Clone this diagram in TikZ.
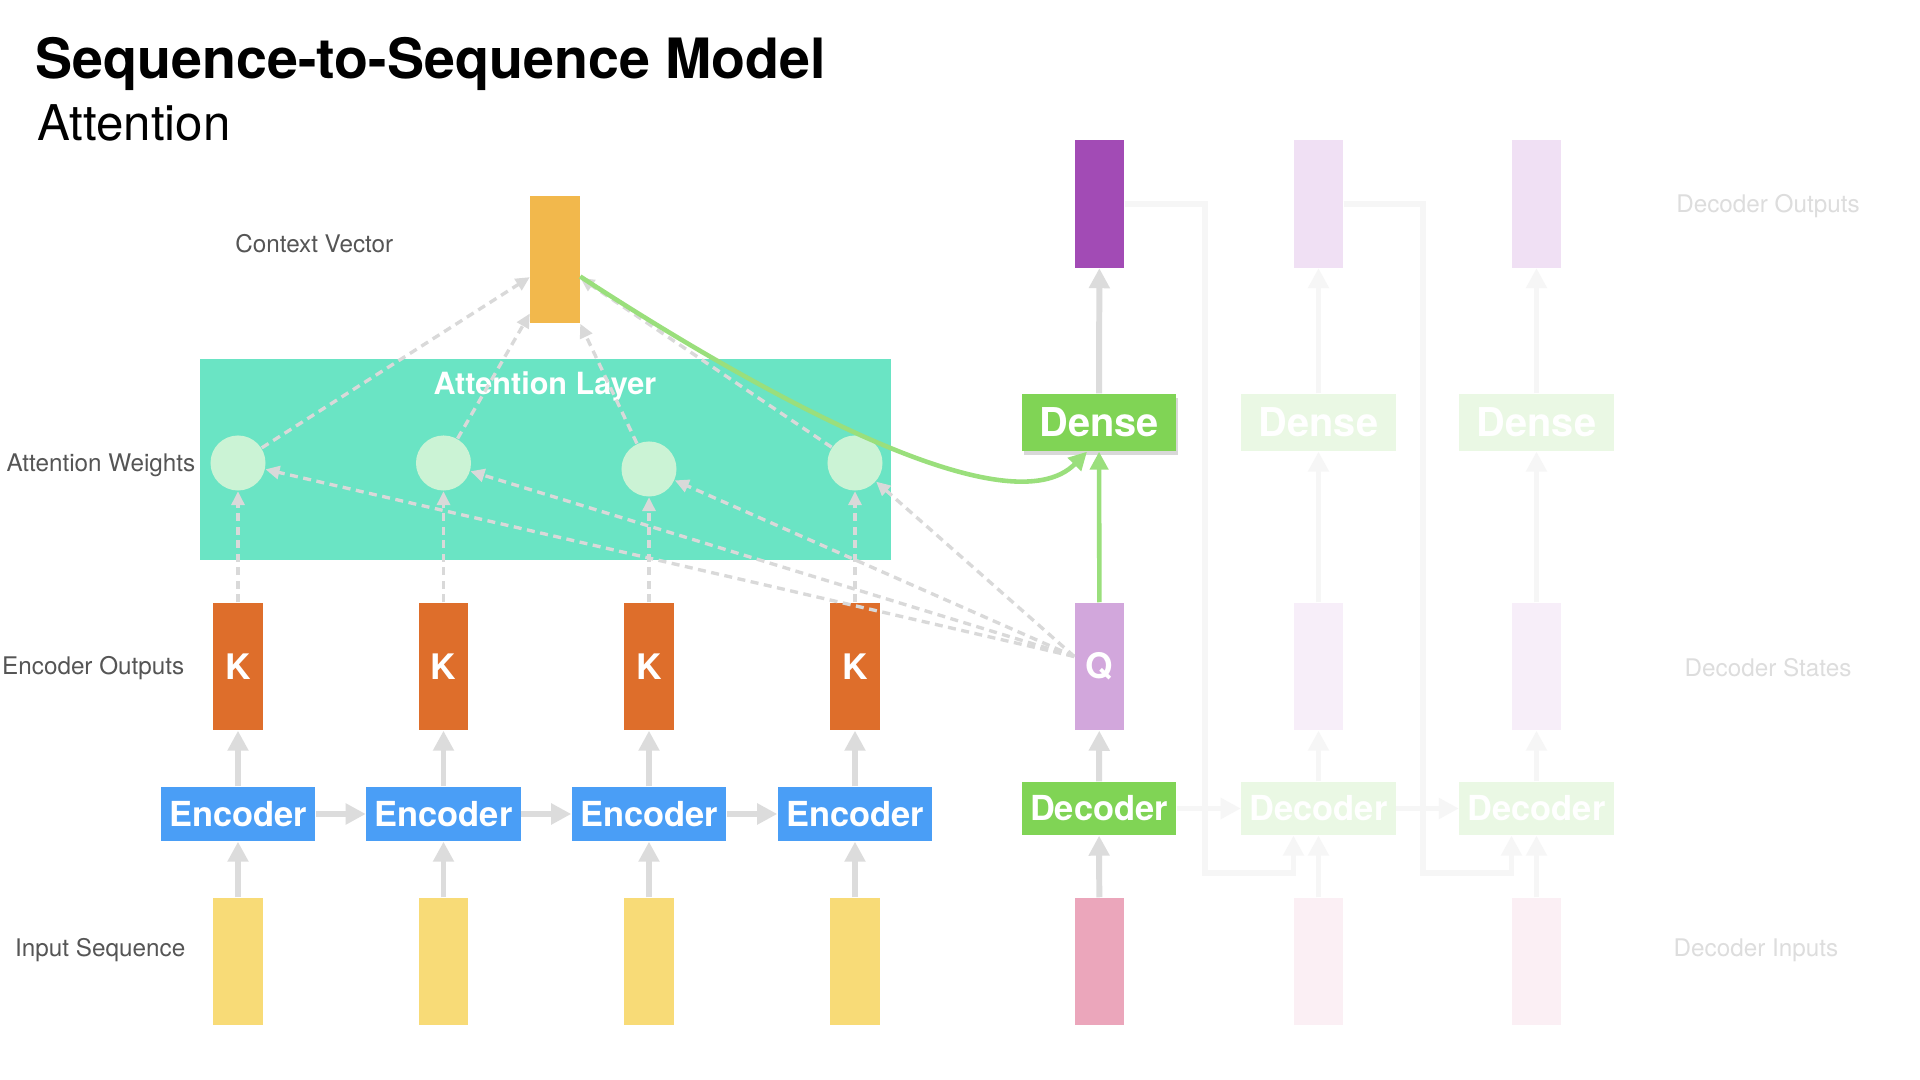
\documentclass[tikz,border=0pt]{standalone}
\usepackage{fontspec}
\setmainfont{TeX Gyre Heros}
\usetikzlibrary{arrows.meta,shadows}

\definecolor{layerteal}{HTML}{6AE4C4}
\definecolor{weightgreen}{HTML}{CBF3D5}
\definecolor{ctxorange}{HTML}{F2B84C}
\definecolor{keyorange}{HTML}{DE6E2B}
\definecolor{encblue}{HTML}{4A9EF6}
\definecolor{inyellow}{HTML}{F8DB77}
\definecolor{outpurple}{HTML}{A24BB5}
\definecolor{qpurple}{HTML}{D2A7DC}
\definecolor{decgreen}{HTML}{80D455}
\definecolor{inpink}{HTML}{EBA6BB}
\definecolor{fadegreen}{HTML}{EAF8E4}
\definecolor{fadeout}{HTML}{F0E0F4}
\definecolor{fadestate}{HTML}{F7EEF9}
\definecolor{fadepink}{HTML}{FBEFF4}
\definecolor{flowgray}{HTML}{DCDCDC}
\definecolor{fadegray}{HTML}{F6F6F6}
\definecolor{dashgray}{HTML}{D9D9D9}
\definecolor{linkgreen}{HTML}{9ADF7C}
\definecolor{labelgray}{HTML}{555555}
\definecolor{fadetext}{HTML}{DDDDDD}

\begin{document}
\begin{tikzpicture}[x=0.01cm, y=-0.01cm,
        vec/.style={minimum width=4.9mm, minimum height=12.7mm, inner sep=0pt,
            text=white, font=\fontsize{10}{12}\selectfont\bfseries},
        blk/.style={minimum width=15.4mm, minimum height=5.4mm, inner sep=0pt,
            text=white, font=\fontsize{9.8}{12}\selectfont\bfseries},
        lbl/.style={text=labelgray, inner sep=0pt, font=\fontsize{6.9}{8}\selectfont},
        flow/.style={draw=flowgray, line width=1.7pt, -{Triangle[length=2mm,width=2mm]}},
        fadeflow/.style={flow, draw=fadegray},
        attn/.style={draw=dashgray, line width=0.95pt, dash pattern=on 0.8mm off 0.55mm,
            -{Triangle[length=1.4mm,width=1.3mm]}},
        linkflow/.style={draw=linkgreen, line width=1.3pt, -{Triangle[length=1.8mm,width=1.8mm]}}]
    \fill[white] (0,0) rectangle (1920,1080);
    \useasboundingbox (0,0) rectangle (1920,1080);

    \node[anchor=base west, inner sep=0pt, font=\fontsize{15.8}{19}\selectfont\bfseries]
        (title) at (35,79) {Sequence-to-Sequence Model};
    \node[anchor=base west, inner sep=0pt, font=\fontsize{14}{17}\selectfont]
        (subtitle) at (37,141) {Attention};

    % attention layer
    \node[fill=layerteal, minimum width=69.1mm, minimum height=20.1mm, inner sep=0pt]
        (layer) at (545.5,459.5) {};
    \node[text=white, font=\fontsize{8.7}{10}\selectfont\bfseries] (layertext) at (545,386) {Attention Layer};
    \node[vec, fill=ctxorange] (ctx) at (555,259.5) {};

    % encoder side
    \foreach \i/\x/\y in {1/238/463, 2/443.5/463, 3/649/469, 4/855/463} {
        \node[vec, fill=inyellow] (in\i) at (\x,961.5) {};
        \node[blk, fill=encblue] (enc\i) at (\x,814) {Encoder};
        \node[vec, fill=keyorange] (k\i) at (\x,666.5) {K};
        \node[circle, fill=weightgreen, minimum size=5.5mm, inner sep=0pt] (w\i) at (\x,\y) {};
        \draw[flow] (in\i) -- (enc\i);
        \draw[flow] (enc\i) -- (k\i);
    }
    \foreach \i/\j in {1/2, 2/3, 3/4}
        \draw[flow] (enc\i) -- (enc\j);

    % decoder side
    \node[vec, fill=inpink] (din1) at (1099.5,961.5) {};
    \node[blk, fill=decgreen, minimum height=5.3mm] (dec1) at (1099,808.5) {Decoder};
    \node[vec, fill=qpurple] (q) at (1099.5,666.5) {Q};
    \node[blk, fill=decgreen, minimum height=5.7mm, font=\fontsize{11.3}{13}\selectfont\bfseries,
        drop shadow={shadow xshift=0.2mm, shadow yshift=-0.4mm, opacity=0.3}] (dns1) at (1099,422.5) {Dense};
    \node[vec, fill=outpurple] (out1) at (1099.5,204) {};
    \foreach \i/\x in {2/1318.5, 3/1536.5} {
        \node[vec, fill=fadepink] (din\i) at (\x,961.5) {};
        \node[blk, fill=fadegreen, minimum height=5.3mm] (dec\i) at (\x,808.5) {Decoder};
        \node[vec, fill=fadestate] (st\i) at (\x,666.5) {};
        \node[blk, fill=fadegreen, minimum height=5.7mm, font=\fontsize{11.3}{13}\selectfont\bfseries]
            (dns\i) at (\x,422.5) {Dense};
        \node[vec, fill=fadeout] (out\i) at (\x,204) {};
        \draw[fadeflow] (din\i) -- (dec\i);
        \draw[fadeflow] (dec\i) -- (st\i);
        \draw[fadeflow] (st\i) -- (dns\i);
        \draw[fadeflow] (dns\i) -- (out\i);
    }
    \draw[fadeflow] (dec1) -- (dec2);
    \draw[fadeflow] (dec2) -- (dec3);
    \draw[fadeflow] (out1.east) -| (1205,873) -| ([xshift=-2.5mm]dec2.south);
    \draw[fadeflow] (out2.east) -| (1423,873) -| ([xshift=-2.5mm]dec3.south);
    \draw[flow] (din1) -- (dec1);
    \draw[flow] (dec1) -- (q);
    \draw[flow] (dns1) -- (out1);

    % attention links
    \foreach \i in {1,...,4} {
        \draw[attn] (k\i) -- (w\i);
        \draw[attn] ([yshift=1mm]q.west) -- (w\i);
    }
    \draw[attn] (w1) -- (ctx.215);
    \draw[attn] (w2) -- (ctx.245);
    \draw[attn] (w3) -- (ctx.south east);
    \draw[attn] (w4) -- (ctx.324.5);
    \draw[linkflow] (q) -- (dns1);
    \draw[linkflow] ([yshift=-1.7mm]ctx.east) .. controls (770,400) and (1010,530) .. ([xshift=-1.2mm]dns1.south);

    % row labels
    \node[lbl, anchor=east] (lctx) at (394,244) {Context Vector};
    \node[lbl, anchor=east] (lweights) at (196,465) {Attention Weights};
    \node[lbl, anchor=east] (lenc) at (185,668) {Encoder Outputs};
    \node[lbl, anchor=east] (linput) at (186,950) {Input Sequence};
    \node[lbl, text=fadetext] (ldout) at (1768,206) {Decoder Outputs};
    \node[lbl, text=fadetext] (ldstate) at (1768,668) {Decoder States};
    \node[lbl, text=fadetext] (ldin) at (1756,950) {Decoder Inputs};
\end{tikzpicture}
\end{document}
